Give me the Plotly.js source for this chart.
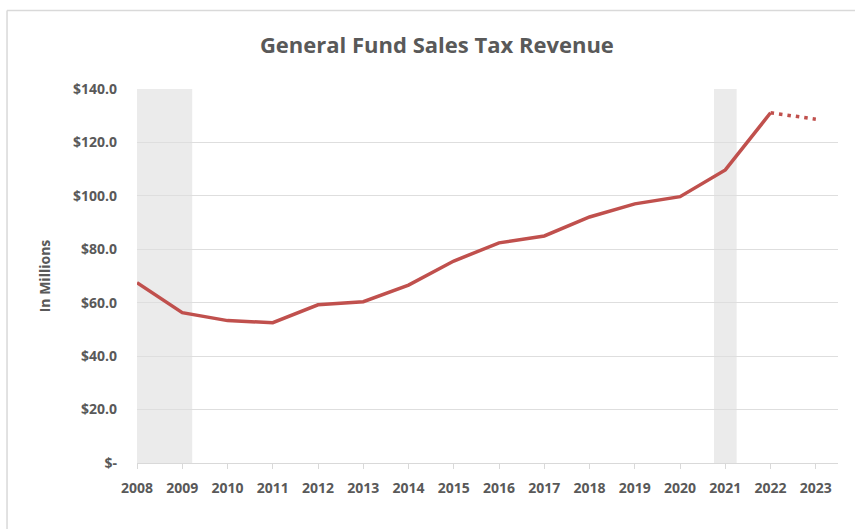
<!DOCTYPE html>
<html>
<head>
<meta charset="utf-8">
<script src="https://cdn.plot.ly/plotly-3.0.1.min.js"></script>
<style>html,body{margin:0;padding:0;background:#fff;}#chart{width:855px;height:529px;}</style>
</head>
<body>
<div id="chart"></div>
<script>
// Data
const years = [2008, 2009, 2010, 2011, 2012, 2013, 2014, 2015, 2016, 2017, 2018, 2019, 2020, 2021, 2022];
const revenue = [67.5, 56.3, 53.3, 52.5, 59.2, 60.4, 66.6, 75.6, 82.4, 85.0, 92.1, 97.0, 99.7, 109.7, 131.1];
const forecastYears = [2022, 2023];
const forecastRevenue = [131.1, 128.7];
const recessions = [[2008, 2009.22], [2020.75, 2021.25]];
const tickYears = [2008, 2009, 2010, 2011, 2012, 2013, 2014, 2015, 2016, 2017, 2018, 2019, 2020, 2021, 2022, 2023];
const yTickVals = [0, 20, 40, 60, 80, 100, 120, 140];
const yTickText = ['$-', '$20.0', '$40.0', '$60.0', '$80.0', '$100.0', '$120.0', '$140.0'];

const lineColor = '#C0504D';
const textColor = '#595959';
const font = 'Open Sans, Liberation Sans, sans-serif';

const traces = [
  {x: years, y: revenue, type: 'scatter', mode: 'lines',
   line: {color: lineColor, width: 3.5}, hoverinfo: 'skip'},
  {x: forecastYears, y: forecastRevenue, type: 'scatter', mode: 'lines',
   line: {color: lineColor, width: 3.5, dash: '3.5px,5px'}, hoverinfo: 'skip'}
];

const shapes = recessions.map(r => ({
  type: 'rect', xref: 'x', yref: 'y', x0: r[0], x1: r[1], y0: 0, y1: 140,
  fillcolor: '#EBEBEB', line: {width: 0}, layer: 'below'
}));
// chart frame (top and left edges)
shapes.push({type: 'line', xref: 'paper', yref: 'paper', x0: -0.1854, x1: 1.03, y0: 1.21, y1: 1.21,
  line: {color: '#D9D9D9', width: 1.5}});
shapes.push({type: 'line', xref: 'paper', yref: 'paper', x0: -0.1854, x1: -0.1854, y0: -0.18, y1: 1.21,
  line: {color: '#D9D9D9', width: 1.5}});

const layout = {
  width: 855, height: 529,
  margin: {l: 137, r: 17, t: 89, b: 66},
  paper_bgcolor: '#fff', plot_bgcolor: '#fff',
  showlegend: false,
  title: {text: '<b>General Fund Sales Tax Revenue</b>', x: 0.511, xanchor: 'center', y: 0.915, yanchor: 'middle',
    font: {family: font, size: 22, color: textColor}},
  xaxis: {
    range: [2008, 2023.49], tickvals: tickYears, ticktext: tickYears.map(String),
    showgrid: false, zeroline: false, showline: true, linecolor: '#D9D9D9', linewidth: 1,
    ticks: 'outside', ticklen: 5, tickcolor: '#D9D9D9', ticklabelstandoff: 7,
    tickfont: {family: font, size: 14, color: textColor, weight: 'bold'}
  },
  yaxis: {
    range: [0, 140], tickvals: yTickVals, ticktext: yTickText,
    showgrid: true, gridcolor: '#DEDEDE', gridwidth: 1, zeroline: false, showline: false,
    ticks: '', ticklabelstandoff: 19,
    tickfont: {family: font, size: 14, color: textColor, weight: 'bold'},
    title: {text: '<b>In Millions</b>', standoff: 19, font: {family: font, size: 14, color: textColor}}
  },
  shapes: shapes
};

Plotly.newPlot('chart', traces, layout, {displayModeBar: false, staticPlot: true});
</script>
</body>
</html>
